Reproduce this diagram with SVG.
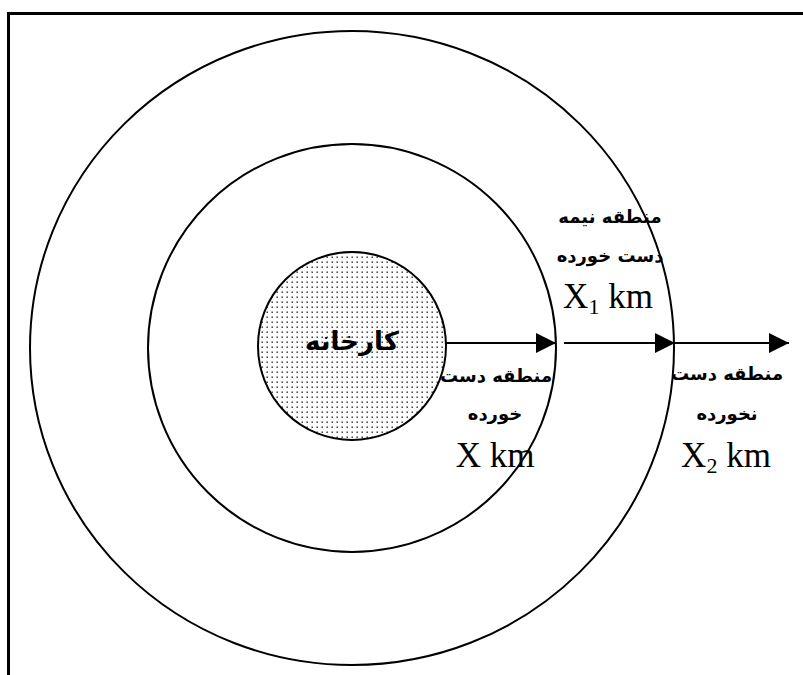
<svg xmlns="http://www.w3.org/2000/svg" width="803" height="675" viewBox="0 0 803 675">
<style>
.ring{fill:none;stroke:#000;stroke-width:2}
.fa{font-family:"DejaVu Sans",sans-serif;font-weight:bold;font-size:18px;fill:#000;text-anchor:middle}
.lat{font-family:"Liberation Serif",serif;font-size:35px;fill:#000;text-anchor:middle}
.conn{stroke:#000;stroke-width:2;fill:none}
</style>
<defs>
<pattern id="dots" width="5" height="5" patternUnits="userSpaceOnUse">
<rect x="1.5" y="1.5" width="1.4" height="1.4" fill="#222"/>
</pattern>
<marker id="ah" markerWidth="20" markerHeight="20" refX="20" refY="10" orient="auto" markerUnits="userSpaceOnUse">
<path d="M0,0 L20,10 L0,20 Z" fill="#000"/>
</marker>
</defs>
<rect width="803" height="675" fill="#fff"/>
<rect x="8.5" y="13.5" width="830" height="700" fill="none" stroke="#000" stroke-width="3"/>
<g id="outer-ring"><ellipse class="ring" cx="352" cy="348" rx="322" ry="317"/></g>
<g id="middle-ring"><circle class="ring" cx="352" cy="348" r="204"/></g>
<g id="factory">
<circle cx="352" cy="346" r="94" fill="#fff"/>
<circle cx="352" cy="346" r="94" fill="url(#dots)" stroke="#000" stroke-width="2"/>
<text class="fa" x="352" y="350" style="font-size:26px" direction="rtl">کارخانه</text>
</g>
<g id="connectors">
<line class="conn" x1="446" y1="343" x2="556" y2="343" marker-end="url(#ah)"/>
<line class="conn" x1="564" y1="343" x2="675" y2="343" marker-end="url(#ah)"/>
<line class="conn" x1="675" y1="343" x2="789" y2="343" marker-end="url(#ah)"/>
</g>
<g id="zone-affected">
<text class="fa" x="496" y="382" direction="rtl">منطقه دست</text>
<text class="fa" x="495" y="420" direction="rtl">خورده</text>
<text class="lat" x="495" y="467">X km</text>
</g>
<g id="zone-semi">
<text class="fa" x="610" y="223" direction="rtl">منطقه نیمه</text>
<text class="fa" x="610" y="262" direction="rtl">دست خورده</text>
<text class="lat" x="608" y="308">X<tspan font-size="22" dy="6">1</tspan><tspan dy="-6"> km</tspan></text>
</g>
<g id="zone-unaffected">
<text class="fa" x="727" y="380" direction="rtl">منطقه دست</text>
<text class="fa" x="727" y="420" direction="rtl">نخورده</text>
<text class="lat" x="726" y="467">X<tspan font-size="22" dy="6">2</tspan><tspan dy="-6"> km</tspan></text>
</g>
</svg>
